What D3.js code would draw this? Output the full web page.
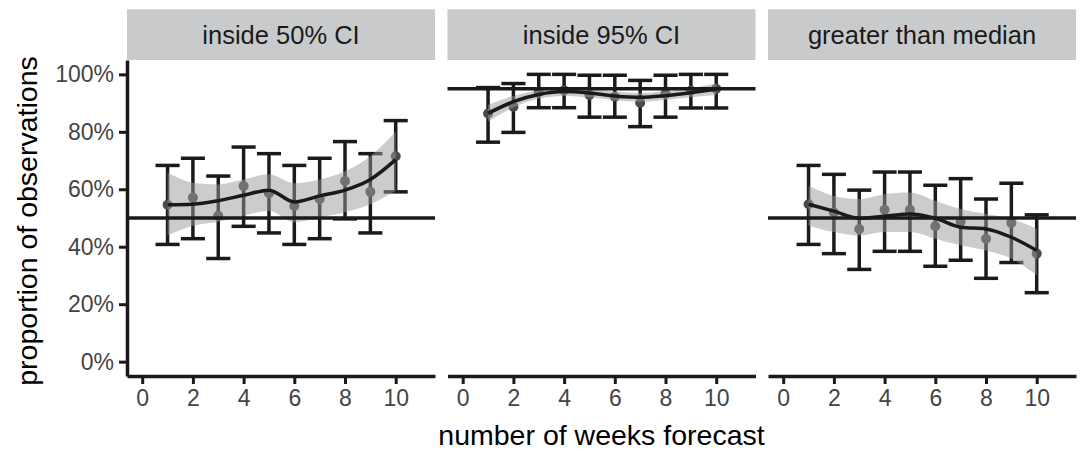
<!DOCTYPE html>
<html>
<head>
<meta charset="utf-8">
<script src="https://cdn.jsdelivr.net/npm/d3@7"></script>
<style>
	body { margin: 0; background: #fff; }
	svg { display: block; font-family: "Liberation Sans", Helvetica, Arial, sans-serif; }
	.strip__label { font-size: 25.5px; fill: #1a1a1a; }
	.tick text { font-size: 23px; fill: #444; }
	.axis-title { font-size: 28.5px; fill: #000; }
</style>
</head>
<body>
<svg class="chart" width="1080" height="451"></svg>
<script>
// DATA
var weeks = [1, 2, 3, 4, 5, 6, 7, 8, 9, 10];
var panelNames = ['inside 50% CI', 'inside 95% CI', 'greater than median'];
var refLevels = [0.5, 0.95, 0.5];
var xTicks = [0, 2, 4, 6, 8, 10];
var yTicks = [0, 0.2, 0.4, 0.6, 0.8, 1];

// inside 50% CI
var ci50Mid = [0.546, 0.571, 0.508, 0.611, 0.586, 0.542, 0.566, 0.629, 0.591, 0.715];
var ci50Lo  = [0.408, 0.428, 0.359, 0.471, 0.448, 0.408, 0.428, 0.497, 0.448, 0.591];
var ci50Hi  = [0.683, 0.708, 0.646, 0.747, 0.724, 0.683, 0.708, 0.766, 0.724, 0.839];
var ci50Fit   = [0.546, 0.548, 0.560, 0.579, 0.597, 0.556, 0.577, 0.597, 0.634, 0.703];
var ci50FitLo = [0.439, 0.473, 0.487, 0.508, 0.525, 0.485, 0.502, 0.520, 0.548, 0.594];
var ci50FitHi = [0.658, 0.623, 0.617, 0.634, 0.652, 0.621, 0.634, 0.663, 0.715, 0.801];

// inside 95% CI
var ci95Mid = [0.864, 0.887, 0.939, 0.945, 0.928, 0.922, 0.901, 0.933, 0.944, 0.950];
var ci95Lo  = [0.764, 0.798, 0.884, 0.884, 0.851, 0.851, 0.818, 0.851, 0.883, 0.883];
var ci95Hi  = [0.954, 0.968, 1.000, 1.000, 0.997, 0.997, 0.979, 0.997, 1.000, 1.000];
var ci95Fit   = [0.864, 0.905, 0.930, 0.940, 0.935, 0.925, 0.920, 0.926, 0.936, 0.948];
var ci95FitLo = [0.835, 0.885, 0.915, 0.925, 0.920, 0.910, 0.905, 0.911, 0.920, 0.928];
var ci95FitHi = [0.893, 0.925, 0.945, 0.955, 0.950, 0.940, 0.935, 0.941, 0.952, 0.968];

// greater than median
var medMid = [0.548, 0.519, 0.462, 0.529, 0.529, 0.471, 0.487, 0.428, 0.483, 0.376];
var medLo  = [0.408, 0.376, 0.321, 0.384, 0.384, 0.332, 0.353, 0.290, 0.345, 0.240];
var medHi  = [0.683, 0.652, 0.597, 0.660, 0.660, 0.614, 0.637, 0.566, 0.621, 0.511];
var medFit   = [0.548, 0.524, 0.499, 0.506, 0.514, 0.499, 0.468, 0.462, 0.433, 0.387];
var medFitLo = [0.473, 0.451, 0.439, 0.451, 0.451, 0.428, 0.405, 0.387, 0.359, 0.301];
var medFitHi = [0.611, 0.577, 0.566, 0.583, 0.589, 0.560, 0.531, 0.514, 0.497, 0.462];

(function() {

	//VARS
	var margin = { top: 60, left: 127 };
	var stripTop = 9.3;
	var panelW = 308;
	var panelH = 316;
	var gap = 12.5;
	var capWidth = 0.95; // in weeks
	var ink = '#1a1a1a';
	var lineW = 3.5;

	var svg = d3.select('.chart');

	function buildPanels() {
		var mids = [ci50Mid, ci95Mid, medMid];
		var los = [ci50Lo, ci95Lo, medLo];
		var his = [ci50Hi, ci95Hi, medHi];
		var fits = [ci50Fit, ci95Fit, medFit];
		var fitLos = [ci50FitLo, ci95FitLo, medFitLo];
		var fitHis = [ci50FitHi, ci95FitHi, medFitHi];

		return panelNames.map(function(name, p) {
			return {
				name: name,
				ref: refLevels[p],
				rows: weeks.map(function(w, i) {
					return {
						week: w, mid: mids[p][i], lo: los[p][i], hi: his[p][i],
						fit: fits[p][i], fitLo: fitLos[p][i], fitHi: fitHis[p][i]
					};
				})
			};
		});
	}

	var x = d3.scaleLinear().domain([-0.6, 11.55]).range([0, panelW]);
	var y = d3.scaleLinear().domain([-0.05, 1.05]).range([panelH, 0]);

	function drawPanel(g, panel, i) {
		// strip
		g.append('rect')
			.attr('x', 0)
			.attr('y', stripTop - margin.top)
			.attr('width', panelW)
			.attr('height', margin.top - stripTop)
			.attr('fill', '#c9cacc');

		g.append('text')
			.attr('class', 'strip__label')
			.attr('x', panelW / 2)
			.attr('y', 43.5 - margin.top)
			.attr('text-anchor', 'middle')
			.text(panel.name);

		// error bars
		var bars = g.append('g').attr('class', 'errorbars')
			.attr('stroke', ink)
			.attr('stroke-width', lineW)
			.attr('fill', 'none');

		var bar = bars.selectAll('g')
			.data(panel.rows)
			.enter().append('g');

		bar.append('line')
			.attr('x1', function(d) { return x(d.week); })
			.attr('x2', function(d) { return x(d.week); })
			.attr('y1', function(d) { return y(d.lo); })
			.attr('y2', function(d) { return y(d.hi); });

		['lo', 'hi'].forEach(function(k) {
			bar.append('line')
				.attr('x1', function(d) { return x(d.week - capWidth / 2); })
				.attr('x2', function(d) { return x(d.week + capWidth / 2); })
				.attr('y1', function(d) { return y(d[k]); })
				.attr('y2', function(d) { return y(d[k]); });
		});

		// points
		g.append('g').attr('class', 'points')
			.selectAll('circle')
			.data(panel.rows)
			.enter().append('circle')
			.attr('cx', function(d) { return x(d.week); })
			.attr('cy', function(d) { return y(d.mid); })
			.attr('r', 5)
			.attr('fill', '#4a4a4a');

		// smoother ribbon
		var ribbon = d3.area()
			.x(function(d) { return x(d.week); })
			.y0(function(d) { return y(d.fitLo); })
			.y1(function(d) { return y(d.fitHi); })
			.curve(d3.curveMonotoneX);

		g.append('path')
			.datum(panel.rows)
			.attr('d', ribbon)
			.attr('fill', '#999999')
			.attr('fill-opacity', 0.5);

		// reference level
		g.append('line')
			.attr('x1', 0)
			.attr('x2', panelW)
			.attr('y1', y(panel.ref))
			.attr('y2', y(panel.ref))
			.attr('stroke', ink)
			.attr('stroke-width', lineW);

		var line = d3.line()
			.x(function(d) { return x(d.week); })
			.y(function(d) { return y(d.fit); })
			.curve(d3.curveMonotoneX);

		g.append('path')
			.datum(panel.rows)
			.attr('d', line)
			.attr('fill', 'none')
			.attr('stroke', ink)
			.attr('stroke-width', lineW);

		// x axis
		var axisX = d3.axisBottom(x)
			.tickValues(xTicks)
			.tickSizeInner(8)
			.tickSizeOuter(0)
			.tickPadding(6);

		var gx = g.append('g')
			.attr('class', 'axis axis--x')
			.attr('transform', 'translate(0,' + panelH + ')')
			.call(axisX);

		gx.select('.domain').attr('stroke', ink).attr('stroke-width', lineW);
		gx.selectAll('.tick line').attr('stroke', ink).attr('stroke-width', 3);

		// y axis only on first panel
		if (i === 0) {
			var axisY = d3.axisLeft(y)
				.tickValues(yTicks)
				.tickFormat(d3.format('.0%'))
				.tickSizeInner(8)
				.tickSizeOuter(0)
				.tickPadding(5);

			var gy = g.append('g')
				.attr('class', 'axis axis--y')
				.call(axisY);

			gy.select('.domain').attr('stroke', ink).attr('stroke-width', lineW);
			gy.selectAll('.tick line').attr('stroke', ink).attr('stroke-width', 3);
		}
	}

	function drawTitles() {
		svg.append('text')
			.attr('class', 'axis-title')
			.attr('x', margin.left + (3 * panelW + 2 * gap) / 2)
			.attr('y', 444.5)
			.attr('text-anchor', 'middle')
			.text('number of weeks forecast');

		svg.append('text')
			.attr('class', 'axis-title')
			.attr('text-anchor', 'middle')
			.attr('transform', 'translate(37,' + (margin.top + panelH / 2 + 3) + ')rotate(-90)')
			.text('proportion of observations');
	}

	function init() {
		var panels = buildPanels();

		svg.selectAll('g.panel')
			.data(panels)
			.enter().append('g')
			.attr('class', 'panel')
			.attr('transform', function(d, i) {
				return 'translate(' + (margin.left + i * (panelW + gap)) + ',' + margin.top + ')';
			})
			.each(function(d, i) { drawPanel(d3.select(this), d, i); });

		drawTitles();
	}

	init();
})();
</script>
</body>
</html>
